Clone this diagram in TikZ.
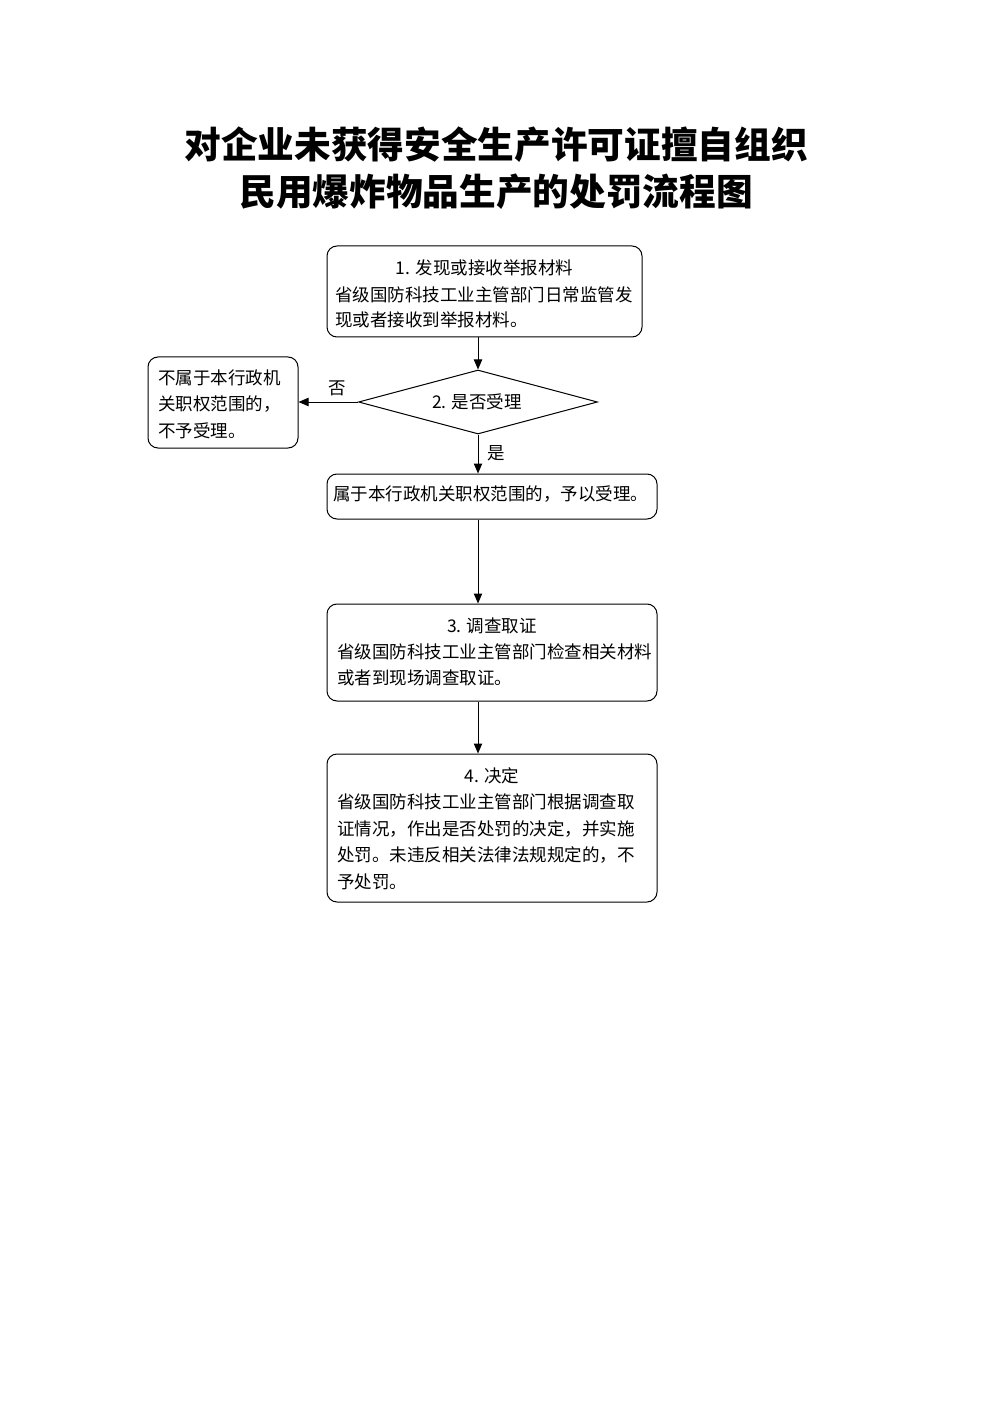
\documentclass[tikz,border=0pt]{standalone}
\usepackage{fontspec}
\setmainfont{Noto Sans CJK SC}
\usetikzlibrary{shapes.geometric,arrows.meta,fit}
\tikzset{
  box/.style={draw, rounded corners=6pt, line width=0.6pt, inner sep=0pt},
  dia/.style={draw, diamond, line width=0.6pt, inner sep=0pt, minimum width=143.4pt, minimum height=38.4pt},
  txt/.style={anchor=west, inner sep=0pt, font=\fontsize{10.5pt}{13pt}\selectfont},
  head/.style={inner sep=0pt, font=\fontsize{10.5pt}{13pt}\selectfont},
  ttl/.style={inner sep=0pt, font=\fontsize{22pt}{26pt}\selectfont\bfseries},
  arr/.style={-{Triangle[length=6pt,width=5pt]}, line width=0.6pt},
  lbl/.style={inner sep=0pt, font=\fontsize{10.5pt}{13pt}\selectfont}
}
\begin{document}
\begin{tikzpicture}[x=0.6pt,y=-0.6pt]
\useasboundingbox (0,0) rectangle (992,1403);
% title
\node[ttl] (t1) at (496,145) {对企业未获得安全生产许可证擅自组织};
\node[ttl] (t2) at (496,192) {民用爆炸物品生产的处罚流程图};
% boxes
\node[box, fit={(327,246)(642,337)}] (b1) {};
\node[dia] (d2) at (478,402) {};
\node[box, fit={(148,357)(298,448)}] (bn) {};
\node[box, fit={(327,474)(657,519)}] (b2) {};
\node[box, fit={(327,604)(657,701)}] (b3) {};
\node[box, fit={(327,754)(657,902)}] (b4) {};
% texts box 1
\node[head] (h1) at (484.5,268) {1. 发现或接收举报材料};
\node[txt] (l11) at (335,295) {省级国防科技工业主管部门日常监管发};
\node[txt] (l12) at (335,320) {现或者接收到举报材料。};
% diamond
\node[head] (h2) at (477,402) {2. 是否受理};
% no box
\node[txt] (n1) at (158,378) {不属于本行政机};
\node[txt] (n2) at (158,404) {关职权范围的，};
\node[txt] (n3) at (158,431) {不予受理。};
% box 2
\node[txt] (l21) at (333,494) {属于本行政机关职权范围的，予以受理。};
% box 3
\node[head] (h3) at (492,626) {3. 调查取证};
\node[txt] (l31) at (337,652) {省级国防科技工业主管部门检查相关材料};
\node[txt] (l32) at (337,678) {或者到现场调查取证。};
% box 4
\node[head] (h4) at (492,776) {4. 决定};
\node[txt] (l41) at (337,802) {省级国防科技工业主管部门根据调查取};
\node[txt] (l42) at (337,829) {证情况，作出是否处罚的决定，并实施};
\node[txt] (l43) at (337,855) {处罚。未违反相关法律法规规定的，不};
\node[txt] (l44) at (337,882) {予处罚。};
% connectors
\draw[arr] (b1.south -| d2.north) -- (d2.north);
\draw[arr] (d2.west) -- (bn.east |- d2.west);
\draw[arr] (d2.south) -- (d2.south |- b2.north);
\draw[arr] (d2.south |- b2.south) -- (d2.south |- b3.north);
\draw[arr] (d2.south |- b3.south) -- (d2.south |- b4.north);
% labels
\node[lbl] (no) at (337,388) {否};
\node[lbl] (yes) at (496,453) {是};
\end{tikzpicture}
\end{document}
